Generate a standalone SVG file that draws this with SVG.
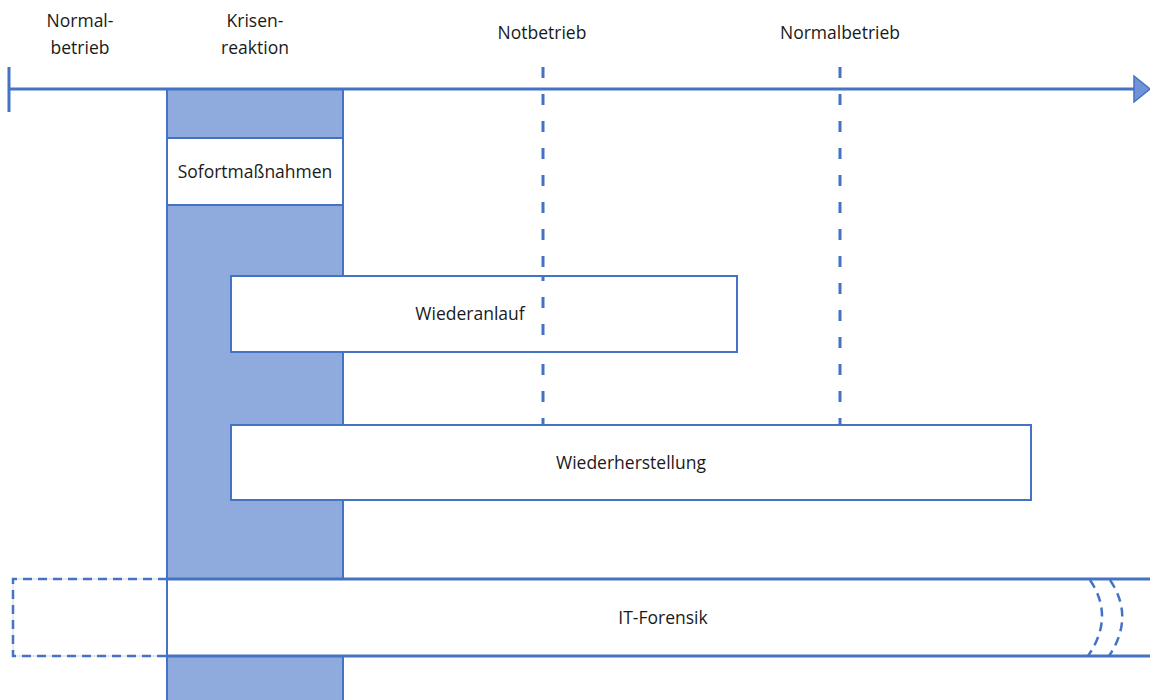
<svg xmlns="http://www.w3.org/2000/svg" width="1150" height="700" viewBox="0 0 1150 700">
<style>
.lbl{font-family:"Open Sans","Noto Sans","Liberation Sans",sans-serif;font-size:17.5px;fill:#1a1a1a;text-anchor:middle}
.box{fill:#fff;stroke:#4472C4;stroke-width:2}
.ln{stroke:#4472C4;stroke-width:3;fill:none}
.dash{stroke:#4472C4;stroke-width:3;fill:none;stroke-dasharray:11 16}
.sdash{stroke:#4472C4;stroke-width:2.5;fill:none;stroke-dasharray:9 6}
</style>
<rect width="1150" height="700" fill="#fff"/>
<g id="labels">
<text class="lbl" x="80" y="27">Normal-</text>
<text class="lbl" x="80" y="54">betrieb</text>
<text class="lbl" x="255" y="27">Krisen-</text>
<text class="lbl" x="255" y="54">reaktion</text>
<text class="lbl" x="542" y="39">Notbetrieb</text>
<text class="lbl" x="840" y="39">Normalbetrieb</text>
</g>
<g id="krisenreaktion">
<rect x="167" y="89" width="176" height="620" fill="#8FAADC" stroke="#4472C4" stroke-width="2"/>
</g>
<g id="connectors">
<line class="ln" x1="9" y1="89" x2="1135" y2="89"/>
<line class="ln" x1="9" y1="67" x2="9" y2="112"/>
<polygon points="1134,76 1150,89 1134,102" fill="#6F93D6" stroke="#4472C4" stroke-width="1.5"/>
<line class="dash" x1="543" y1="67" x2="543" y2="425"/>
<line class="dash" x1="840" y1="67" x2="840" y2="425"/>
</g>
<g id="sofort">
<rect class="box" x="167" y="138" width="176" height="67"/>
<text class="lbl" x="255" y="178">Sofortmaßnahmen</text>
</g>
<g id="wiederanlauf">
<rect class="box" x="231" y="276" width="506" height="76"/>
<line class="dash" x1="543" y1="276" x2="543" y2="352" stroke-dashoffset="6"/>
<text class="lbl" x="470" y="320">Wiederanlauf</text>
</g>
<g id="wiederherstellung">
<rect class="box" x="231" y="425" width="800" height="75"/>
<text class="lbl" x="631" y="469">Wiederherstellung</text>
</g>
<g id="forensik">
<rect x="167" y="579" width="990" height="77" fill="#fff"/>
<path d="M13,579 H160 M13,656 H160 M13,579 V656" fill="none" stroke="#d0d6e0" stroke-width="1"/>
<path class="sdash" d="M167,579 H13 V656 H167"/>
<line class="ln" x1="167" y1="579" x2="1150" y2="579" stroke-width="2.5"/>
<line class="ln" x1="167" y1="656" x2="1150" y2="656" stroke-width="2.5"/>
<line x1="167" y1="579" x2="167" y2="656" stroke="#4472C4" stroke-width="2"/>
<path class="sdash" d="M1090,580 Q1115,617 1088,656" stroke-dasharray="8 7"/>
<path class="sdash" d="M1110,580 Q1135,617 1109,656" stroke-dasharray="8 7"/>
<text class="lbl" x="663" y="624">IT-Forensik</text>
</g>
</svg>
